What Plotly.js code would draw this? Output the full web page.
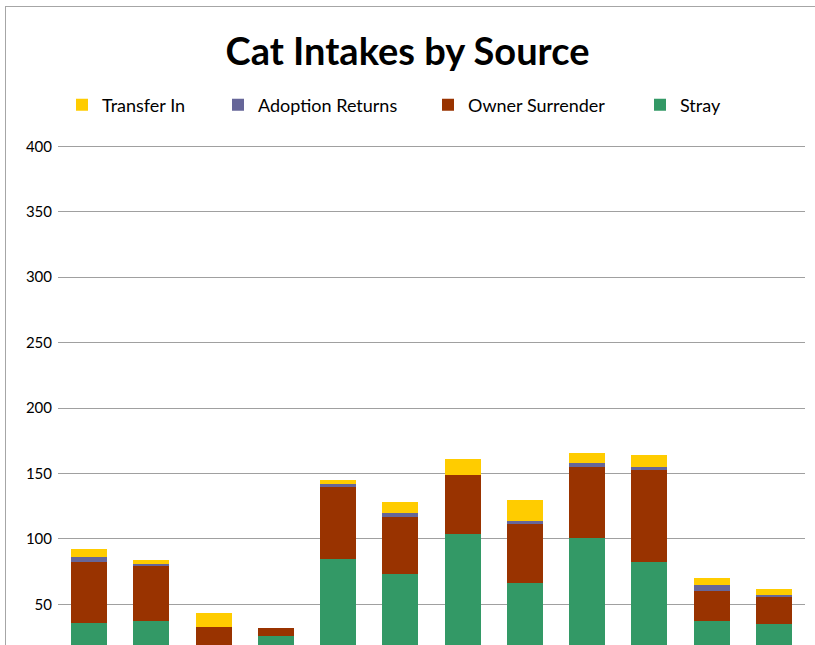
<!DOCTYPE html>
<html>
<head>
<meta charset="utf-8">
<script src="https://cdn.plot.ly/plotly-3.0.1.min.js"></script>
<style>
html,body{margin:0;padding:0;overflow:hidden;background:#fff;}
#chart{position:absolute;left:0;top:0;width:815px;height:645px;}
#frame{position:absolute;left:5px;top:6px;width:830px;height:700px;border:1px solid #a6a6a6;pointer-events:none;}
</style>
</head>
<body>
<div id="chart"></div>
<div id="frame"></div>
<script>
const months = ["Jan","Feb","Mar","Apr","May","Jun","Jul","Aug","Sep","Oct","Nov","Dec"];
const stray = [36, 37, 14, 26, 85, 73, 104, 66, 101, 82, 37, 35];
const ownerSurrender = [46, 42, 19, 6, 55, 44, 45, 45, 54, 71, 23, 21];
const adoptionReturns = [4, 2, 0, 0, 2, 3, 0, 3, 3, 2, 5, 1];
const transferIn = [6, 3, 10, 0, 3, 8, 12, 16, 8, 9, 5, 5];
const yTicks = [50, 100, 150, 200, 250, 300, 350, 400];

const font = "Lato, 'Liberation Sans', sans-serif";
function tr(name, y, color, legend) {
  return {type:"bar", name:name, x:months, y:y, marker:{color:color, line:{width:0}},
          legend:legend, hoverinfo:"y+name"};
}
const data = [
  tr("Stray", stray, "#339966", "legend4"),
  tr("Owner Surrender", ownerSurrender, "#993300", "legend3"),
  tr("Adoption Returns", adoptionReturns, "#666699", "legend2"),
  tr("Transfer In", transferIn, "#FFCC00", "legend")
];
function leg(xpx) {
  return {orientation:"h", xref:"container", yref:"container", x:xpx/815, y:1-105/645,
          xanchor:"left", yanchor:"middle", font:{family:font, size:18, color:"#000"},
          bgcolor:"rgba(0,0,0,0)", borderwidth:0};
}
const layout = {
  width:815, height:645,
  margin:{l:58, r:10, t:145, b:0},
  paper_bgcolor:"#fff", plot_bgcolor:"#fff",
  barmode:"stack", bargap:0.42,
  title:{text:"<b>Cat Intakes by Source</b>", xref:"container", yref:"container", x:0.5, y:1-52/645,
         xanchor:"center", yanchor:"middle", font:{family:font, size:38, color:"#000"}},
  showlegend:true,
  legend:leg(62), legend2:leg(218), legend3:leg(428), legend4:leg(640),
  xaxis:{type:"category", showticklabels:false, showgrid:false, zeroline:false, showline:false, ticks:""},
  yaxis:{range:[18.9, 401], tickvals:yTicks, ticktext:yTicks.map(String), showgrid:true,
         gridcolor:"#a0a0a0", gridwidth:1, zeroline:false, showline:false, ticks:"",
         tickfont:{family:font, size:15, color:"#000"}, ticklabelstandoff:5}
};
Plotly.newPlot("chart", data, layout, {displayModeBar:false, responsive:false});
</script>
</body>
</html>
